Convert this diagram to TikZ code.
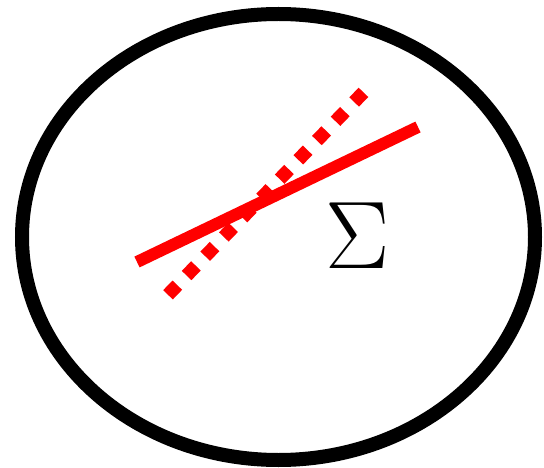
\documentclass[tikz,border=0pt]{standalone}
\begin{document}
\begin{tikzpicture}[x=1pt,y=-1pt]
\def\xC{278.5};
\def\yC{237};
\useasboundingbox (0,0) rectangle (544,468);
\coordinate (C) at (\xC,\yC);
\draw[line width=14pt] (C) ellipse (256.5 and 223);
\coordinate (A1) at (137,262);
\coordinate (A2) at (418,127);
\coordinate (B1) at (168,294.8);
\coordinate (B2) at (363.6,92.2);
\draw[line width=12pt,red] (A1)--(A2);
\draw[line width=13.4pt,red,dash pattern=on 13.4pt off 13.4pt] (B1)--(B2);
\node[inner sep=0pt,font=\fontsize{96}{96}\selectfont] (sigma) at (357.5,236) {Σ};
\end{tikzpicture}
\end{document}
